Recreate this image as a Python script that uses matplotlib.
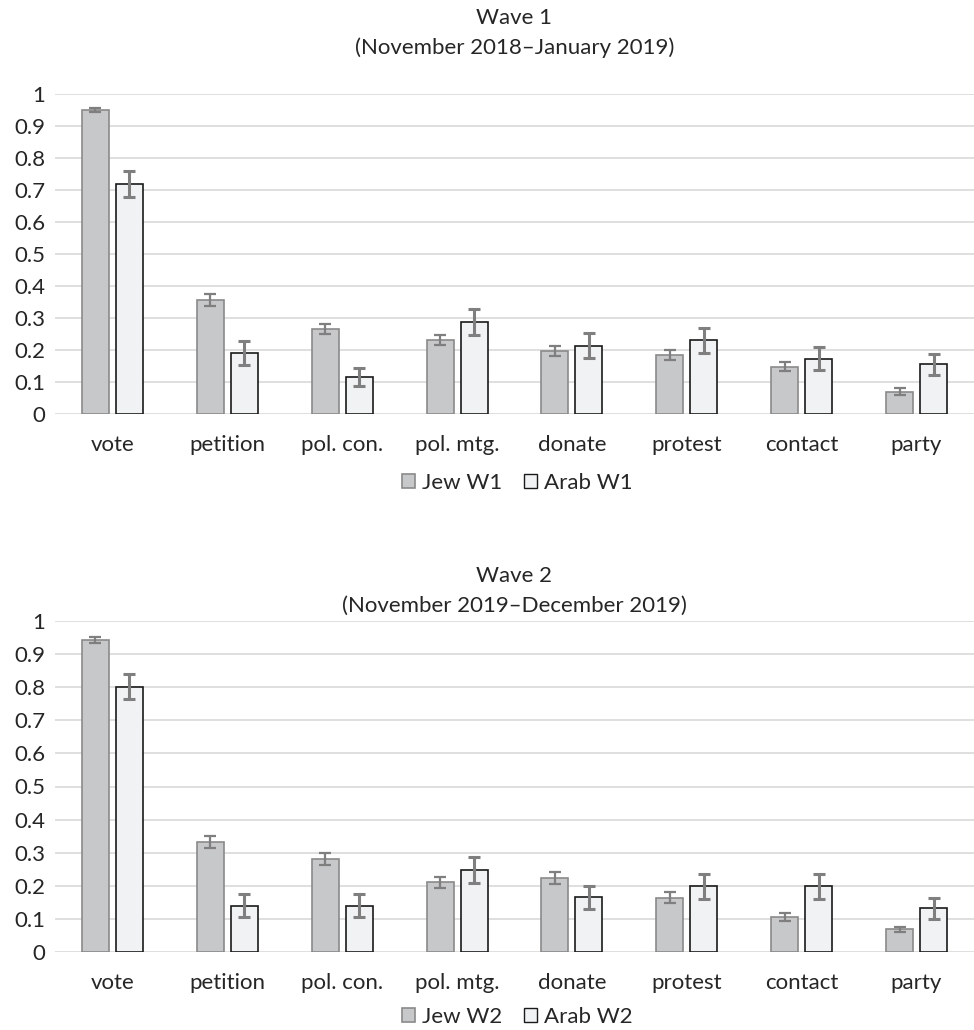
import matplotlib
matplotlib.use("Agg")
import matplotlib.pyplot as plt
import numpy as np
from matplotlib.patches import Patch

plt.rcParams['font.family'] = ['Lato', 'DejaVu Sans']

categories = ["vote", "petition", "pol. con.", "pol. mtg.", "donate", "protest", "contact", "party"]

jew_w1 = [0.950, 0.356, 0.265, 0.232, 0.197, 0.185, 0.148, 0.070]
jew_w1_err = [0.007, 0.018, 0.016, 0.016, 0.015, 0.016, 0.013, 0.010]
arab_w1 = [0.718, 0.190, 0.116, 0.288, 0.214, 0.230, 0.173, 0.156]
arab_w1_err = [0.041, 0.037, 0.029, 0.041, 0.038, 0.038, 0.035, 0.033]

jew_w2 = [0.943, 0.332, 0.281, 0.210, 0.224, 0.164, 0.107, 0.068]
jew_w2_err = [0.008, 0.018, 0.018, 0.017, 0.018, 0.016, 0.012, 0.009]
arab_w2 = [0.802, 0.140, 0.140, 0.248, 0.165, 0.198, 0.198, 0.132]
arab_w2_err = [0.037, 0.034, 0.034, 0.040, 0.034, 0.037, 0.037, 0.032]

yticks = [0, 0.1, 0.2, 0.3, 0.4, 0.5, 0.6, 0.7, 0.8, 0.9, 1]
ytick_labels = ["0", "0.1", "0.2", "0.3", "0.4", "0.5", "0.6", "0.7", "0.8", "0.9", "1"]

JEW_FILL = "#c7c8ca"
JEW_EDGE = "#8a8a8a"
ARAB_FILL = "#f1f2f4"
ARAB_EDGE = "#1a1a1a"
ERR = "#7f7f7f"
GRID = "#d9d9d9"
TXT = "#262626"
FS = 16

W, H = 974, 1030
fig = plt.figure(figsize=(W / 100, H / 100), dpi=100)

def draw(ax_rect, jew, jerr, arab, aerr, title, sub, title_y, sub_y, leg_y, leg_labels):
    ax = fig.add_axes(ax_rect)
    x = np.arange(len(categories))
    bw = 0.235
    off = 0.148
    ax.bar(x - off, jew, bw, color=JEW_FILL, edgecolor=JEW_EDGE, linewidth=1.2, zorder=3)
    ax.bar(x + off, arab, bw, color=ARAB_FILL, edgecolor=ARAB_EDGE, linewidth=1.2, zorder=3)
    ax.errorbar(x - off, jew, yerr=jerr, fmt="none", ecolor=ERR, elinewidth=1.6,
                capsize=4.5, capthick=1.6, zorder=4)
    ax.errorbar(x + off, arab, yerr=aerr, fmt="none", ecolor=ERR, elinewidth=2.2,
                capsize=4.5, capthick=2.2, zorder=4)
    ax.set_xlim(-0.5, len(categories) - 0.5)
    ax.set_ylim(0, 1)
    ax.set_yticks(yticks)
    ax.set_yticklabels(ytick_labels)
    ax.set_xticks(x)
    ax.set_xticklabels(categories)
    ax.grid(axis="y", color=GRID, linewidth=1.2, zorder=0)
    ax.set_axisbelow(True)
    for s in ax.spines.values():
        s.set_visible(False)
    ax.tick_params(axis="both", length=0, labelsize=FS, colors=TXT)
    ax.tick_params(axis="y", pad=7)
    ax.tick_params(axis="x", pad=15)
    cx = (ax_rect[0] + ax_rect[0] + ax_rect[2]) / 2
    fig.text(cx, title_y, title, ha="center", va="center", fontsize=FS, color=TXT)
    fig.text(cx, sub_y, sub, ha="center", va="center", fontsize=FS, color=TXT)
    handles = [Patch(facecolor=JEW_FILL, edgecolor=JEW_EDGE, linewidth=1.2),
               Patch(facecolor=ARAB_FILL, edgecolor=ARAB_EDGE, linewidth=1.0)]
    fig.legend(handles, leg_labels, loc="center", bbox_to_anchor=(0.531, leg_y), ncol=2,
               frameon=False, fontsize=FS, handlelength=0.6, handleheight=0.6,
               handletextpad=0.3, columnspacing=1.0, labelcolor=TXT)
    return ax

draw([55 / W, (H - 414) / H, 919 / W, 320 / H], jew_w1, jew_w1_err, arab_w1, arab_w1_err,
     "Wave 1", "(November 2018\u2013January 2019)", 1 - 18 / H, 1 - 48 / H, 1 - 483 / H,
     ["Jew W1", "Arab W1"])
draw([55 / W, (H - 952) / H, 919 / W, 331 / H], jew_w2, jew_w2_err, arab_w2, arab_w2_err,
     "Wave 2", "(November 2019\u2013December 2019)", 1 - 576 / H, 1 - 606 / H, 1 - 1017 / H,
     ["Jew W2", "Arab W2"])

fig.savefig("out.png", dpi=100, facecolor="white")
